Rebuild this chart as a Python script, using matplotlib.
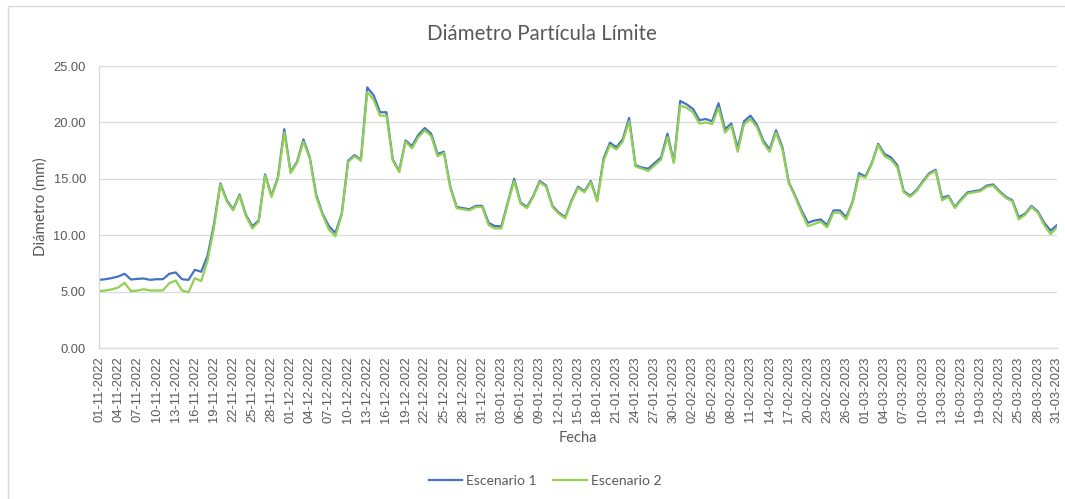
"""Diámetro partícula límite, escenarios 1 y 2 (nov-2022 a mar-2023)."""

import matplotlib

matplotlib.use("Agg")
import matplotlib.pyplot as plt
import matplotlib.dates as mdates
import pandas as pd
from matplotlib.patches import Rectangle

fechas = pd.date_range("2022-11-01", "2023-03-31", freq="D")

escenario_1 = [
    6.04, 6.10, 6.20, 6.34, 6.58, 6.07, 6.13, 6.16, 6.04, 6.10,
    6.10, 6.58, 6.70, 6.10, 6.04, 6.93, 6.76, 8.20, 11.0, 14.6,
    13.1, 12.3, 13.6, 11.8, 10.8, 11.3, 15.4, 13.5, 15.1, 19.4,
    15.6, 16.5, 18.5, 16.9, 13.6, 11.9, 10.8, 10.2, 11.9, 16.6,
    17.1, 16.7, 23.1, 22.4, 20.9, 20.9, 16.7, 15.7, 18.4, 17.9,
    18.9, 19.5, 19.0, 17.2, 17.4, 14.3, 12.5, 12.4, 12.3, 12.6,
    12.6, 11.1, 10.8, 10.8, 12.9, 15.0, 12.9, 12.5, 13.5, 14.8,
    14.4, 12.6, 12.0, 11.6, 13.1, 14.3, 13.9, 14.8, 13.1, 16.8,
    18.2, 17.8, 18.5, 20.4, 16.2, 16.0, 15.9, 16.4, 16.9, 19.0,
    16.5, 21.9, 21.6, 21.2, 20.2, 20.3, 20.1, 21.7, 19.4, 19.9,
    17.7, 20.1, 20.6, 19.8, 18.4, 17.6, 19.3, 17.8, 14.7, 13.5,
    12.2, 11.1, 11.3, 11.4, 10.9, 12.2, 12.2, 11.6, 13.0, 15.5,
    15.2, 16.4, 18.1, 17.2, 16.9, 16.2, 13.9, 13.5, 14.0, 14.8,
    15.5, 15.8, 13.3, 13.5, 12.5, 13.2, 13.8, 13.9, 14.0, 14.4,
    14.5, 13.9, 13.4, 13.1, 11.6, 11.9, 12.6, 12.1, 11.1, 10.4,
    10.9,
]

escenario_2 = [
    5.04, 5.10, 5.20, 5.36, 5.78, 5.04, 5.10, 5.21, 5.10, 5.10,
    5.10, 5.75, 5.98, 5.10, 4.95, 6.19, 5.93, 7.76, 10.7, 14.5,
    13.0, 12.2, 13.5, 11.7, 10.6, 11.2, 15.3, 13.4, 15.0, 19.1,
    15.5, 16.4, 18.3, 16.8, 13.4, 11.8, 10.5, 9.9, 11.8, 16.5,
    17.0, 16.6, 22.7, 22.0, 20.6, 20.6, 16.6, 15.6, 18.3, 17.7,
    18.7, 19.3, 18.8, 17.0, 17.3, 14.2, 12.4, 12.3, 12.2, 12.5,
    12.5, 10.9, 10.6, 10.6, 12.8, 14.8, 12.8, 12.4, 13.4, 14.7,
    14.3, 12.5, 11.9, 11.5, 13.0, 14.2, 13.8, 14.7, 13.0, 16.6,
    18.0, 17.6, 18.3, 20.1, 16.1, 15.9, 15.7, 16.2, 16.7, 18.7,
    16.4, 21.5, 21.3, 20.9, 19.9, 20.0, 19.85, 21.3, 19.1, 19.7,
    17.4, 19.85, 20.3, 19.6, 18.2, 17.4, 19.1, 17.6, 14.6, 13.4,
    12.0, 10.8, 11.0, 11.2, 10.7, 12.0, 12.0, 11.4, 12.9, 15.3,
    15.1, 16.3, 18.0, 17.0, 16.7, 16.0, 13.8, 13.4, 13.9, 14.7,
    15.4, 15.7, 13.1, 13.4, 12.4, 13.1, 13.7, 13.8, 13.9, 14.3,
    14.4, 13.8, 13.3, 13.0, 11.4, 11.8, 12.5, 12.0, 10.9, 10.1,
    10.7,
]

y_ticks = [0, 5, 10, 15, 20, 25]

GRIS = "#595959"
LABEL_FONT = ["Lato", "DejaVu Sans"]

fig = plt.figure(figsize=(10.65, 4.99), dpi=100)
ax = fig.add_axes([0.093, 0.3026, 0.8995, 0.5651])

ax.plot(fechas, escenario_1, color="#4472C4", lw=1.6, label="Escenario 1")
ax.plot(fechas, escenario_2, color="#92D050", lw=1.6, label="Escenario 2")

ax.set_xlim(fechas[0], fechas[-1])
ax.set_ylim(0, 25)
ax.set_yticks(y_ticks)
ax.set_yticklabels([f"{v:.2f}" for v in y_ticks])
ax.set_xticks(fechas[::3])
ax.xaxis.set_major_formatter(mdates.DateFormatter("%d-%m-%Y"))

ax.tick_params(axis="both", length=0, colors=GRIS, labelsize=9.3)
ax.tick_params(axis="x", rotation=90, pad=6)
ax.tick_params(axis="y", pad=9.4)
for lbl in ax.get_xticklabels() + ax.get_yticklabels():
    lbl.set_fontfamily("Liberation Sans")

ax.grid(axis="y", color="#D9D9D9", lw=0.9)
ax.set_axisbelow(True)
for side in ("top", "right"):
    ax.spines[side].set_visible(False)
for side in ("left", "bottom"):
    ax.spines[side].set_color("#D9D9D9")
    ax.spines[side].set_linewidth(0.9)

ax.set_ylabel("Diámetro (mm)", fontsize=10.8, color=GRIS, family=LABEL_FONT, labelpad=4)
ax.set_xlabel("Fecha", fontsize=10.5, color=GRIS, family=LABEL_FONT, labelpad=6)
fig.text(542 / 1065, 1 - 34 / 499, "Diámetro Partícula Límite", ha="center", va="center",
         fontsize=14.8, color=GRIS, family=LABEL_FONT)

fig.legend(loc="center", bbox_to_anchor=(545 / 1065, 18 / 499), ncol=2, frameon=False,
           prop={"family": LABEL_FONT, "size": 10}, labelcolor=GRIS,
           handlelength=2.4, handletextpad=0.3, columnspacing=1.2)

# borde del área del gráfico
fig.patches.append(Rectangle((8 / 1065, -0.05), 1.1, 1 - 6 / 499 + 0.05,
                             transform=fig.transFigure, fill=False,
                             edgecolor="#D9D9D9", lw=1.0))

fig.savefig("out.png", dpi=100)
